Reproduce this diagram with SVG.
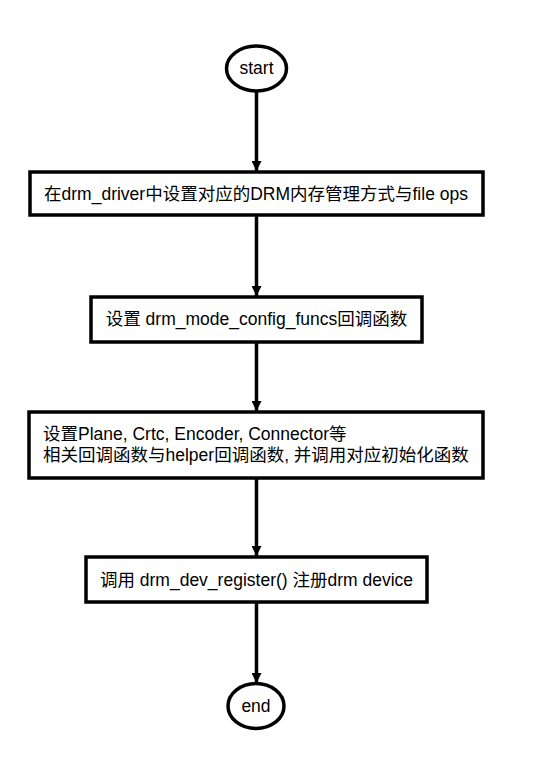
<svg xmlns="http://www.w3.org/2000/svg" width="536" height="762" viewBox="0 0 536 762">
<style>
.n{fill:#fff;stroke:#000;stroke-width:3.5}
.t{font-family:"Liberation Sans","Noto Sans CJK SC",sans-serif;font-size:17.5px;fill:#000}
.c{stroke:#000;stroke-width:3.5;fill:none}
</style>
<defs>
<marker id="a" viewBox="0 0 10 10" refX="10" refY="5" markerWidth="10" markerHeight="10" markerUnits="userSpaceOnUse" orient="auto">
<path d="M0,0 L10,5 L0,10 Z" fill="#000"/>
</marker>
</defs>
<rect width="536" height="762" fill="#fff"/>
<g id="connectors">
<line class="c" x1="256.5" y1="92" x2="256.5" y2="171" marker-end="url(#a)"/>
<line class="c" x1="256.5" y1="216" x2="256.5" y2="296" marker-end="url(#a)"/>
<line class="c" x1="256.5" y1="343" x2="256.5" y2="411" marker-end="url(#a)"/>
<line class="c" x1="256.5" y1="479" x2="256.5" y2="556" marker-end="url(#a)"/>
<line class="c" x1="256.5" y1="603" x2="256.5" y2="683" marker-end="url(#a)"/>
</g>
<g id="start">
<ellipse class="n" cx="256.5" cy="68.5" rx="30" ry="22.5"/>
<text class="t" x="256.5" y="74" text-anchor="middle">start</text>
</g>
<g id="step1">
<rect class="n" x="30" y="172" width="453" height="43"/>
<text class="t" x="256" y="200" text-anchor="middle">在drm_driver中设置对应的DRM内存管理方式与file ops</text>
</g>
<g id="step2">
<rect class="n" x="91" y="297" width="331" height="45"/>
<text class="t" x="256.5" y="325" text-anchor="middle">设置 drm_mode_config_funcs回调函数</text>
</g>
<g id="step3">
<rect class="n" x="29" y="412" width="454" height="66"/>
<text class="t" x="43" y="440">设置Plane, Crtc, Encoder, Connector等</text>
<text class="t" x="43" y="461">相关回调函数与helper回调函数, 并调用对应初始化函数</text>
</g>
<g id="step4">
<rect class="n" x="86" y="557" width="341" height="45"/>
<text class="t" x="256.5" y="586" text-anchor="middle">调用 drm_dev_register() 注册drm device</text>
</g>
<g id="end">
<ellipse class="n" cx="256" cy="706" rx="28" ry="22.5"/>
<text class="t" x="256" y="712" text-anchor="middle">end</text>
</g>
</svg>
